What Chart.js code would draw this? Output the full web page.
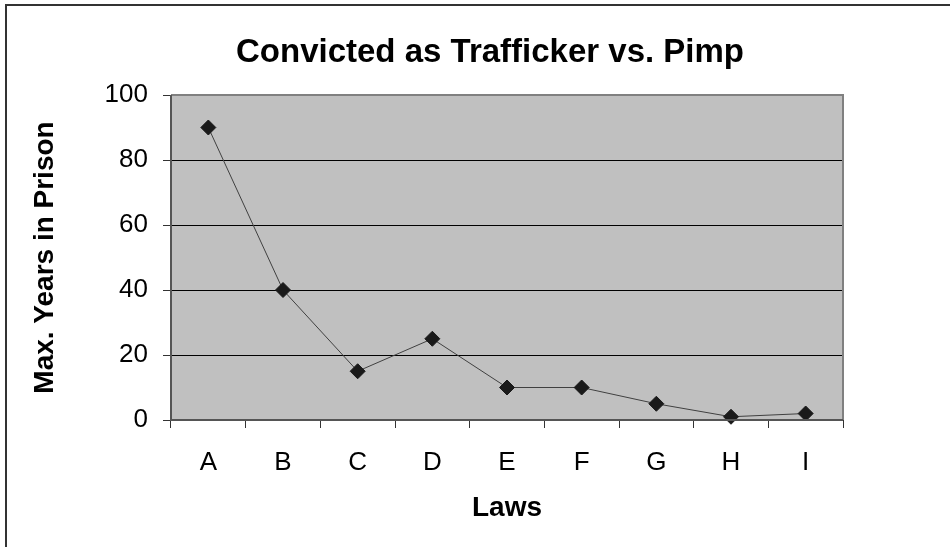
<!DOCTYPE html>
<html>
<head>
<meta charset="utf-8">
<script src="https://cdn.jsdelivr.net/npm/chart.js@4/dist/chart.umd.min.js"></script>
<style>
  html, body { margin: 0; padding: 0; background: #fff; }
  #wrap { width: 950px; height: 547px; position: relative; }
</style>
</head>
<body>
<div id="wrap"><canvas id="c" width="950" height="547"></canvas></div>
<script>
const categories = ['A', 'B', 'C', 'D', 'E', 'F', 'G', 'H', 'I'];
const maxYears = [90, 40, 15, 25, 10, 10, 5, 1, 2];
const yTicks = [0, 20, 40, 60, 80, 100];
const titleText = 'Convicted as Trafficker vs. Pimp';
const xTitle = 'Laws';
const yTitle = 'Max. Years in Prison';

const FONT = "'Liberation Sans', Arial, sans-serif";

const decor = {
  id: 'decor',
  beforeDraw(chart) {
    const { ctx, chartArea: a } = chart;
    ctx.save();
    ctx.fillStyle = '#fff';
    ctx.fillRect(0, 0, chart.width, chart.height);
    ctx.fillStyle = '#c0c0c0';
    ctx.fillRect(a.left, a.top, a.right - a.left, a.bottom - a.top);
    // outer frame (top & left)
    ctx.strokeStyle = '#333';
    ctx.lineWidth = 2;
    ctx.beginPath();
    ctx.moveTo(6, chart.height);
    ctx.lineTo(6, 5);
    ctx.lineTo(chart.width, 5);
    ctx.stroke();
    // chart title
    ctx.fillStyle = '#000';
    ctx.font = "bold 33px " + FONT;
    ctx.textAlign = 'center';
    ctx.textBaseline = 'middle';
    ctx.fillText(titleText, 490, 53);
    ctx.restore();
  },
  afterDatasetsDraw(chart) {
    const { ctx, chartArea: a } = chart;
    ctx.save();
    ctx.strokeStyle = '#808080';
    ctx.lineWidth = 2;
    ctx.beginPath();
    ctx.moveTo(a.left, a.top);
    ctx.lineTo(a.right, a.top);
    ctx.lineTo(a.right, a.bottom);
    ctx.stroke();
    ctx.strokeStyle = '#555';
    ctx.beginPath();
    ctx.moveTo(a.left, a.top);
    ctx.lineTo(a.left, a.bottom);
    ctx.lineTo(a.right, a.bottom);
    ctx.stroke();
    ctx.restore();
  }
};

new Chart(document.getElementById('c'), {
  type: 'line',
  data: {
    labels: categories,
    datasets: [{
      data: maxYears,
      borderColor: '#404040',
      borderWidth: 1,
      pointStyle: 'rectRot',
      pointRadius: 7.5,
      pointBackgroundColor: '#1a1a1a',
      pointBorderColor: '#1a1a1a',
      pointBorderWidth: 1,
      tension: 0,
      fill: false,
      clip: false
    }]
  },
  options: {
    responsive: false,
    animation: false,
    events: [],
    layout: { padding: { left: 0, right: 107, top: 95, bottom: 0 } },
    plugins: {
      legend: { display: false },
      tooltip: { enabled: false },
      title: { display: false }
    },
    scales: {
      x: {
        offset: true,
        grid: {
          offset: true,
          drawOnChartArea: false,
          drawTicks: true,
          tickLength: 8,
          color: '#333',
          lineWidth: 1
        },
        border: { display: false },
        ticks: {
          color: '#000',
          font: { family: FONT, size: 26 },
          padding: 19,
          maxRotation: 0
        },
        title: {
          display: true,
          text: xTitle,
          color: '#000',
          font: { family: FONT, size: 28, weight: 'bold' },
          padding: { top: 0, bottom: 22 }
        },
        afterFit(scale) { scale.height = 127; }
      },
      y: {
        min: 0,
        max: 100,
        afterBuildTicks(scale) { scale.ticks = yTicks.map(v => ({ value: v })); },
        grid: {
          color: '#000',
          lineWidth: 1,
          tickLength: 8,
          tickColor: '#333'
        },
        border: { display: false },
        ticks: {
          color: '#000',
          font: { family: FONT, size: 26 },
          padding: 15
        },
        title: {
          display: true,
          text: yTitle,
          color: '#000',
          font: { family: FONT, size: 28, weight: 'bold' },
          padding: { top: 28, bottom: 0 }
        },
        afterFit(scale) { scale.width = 171; }
      }
    }
  },
  plugins: [decor]
});
</script>
</body>
</html>
